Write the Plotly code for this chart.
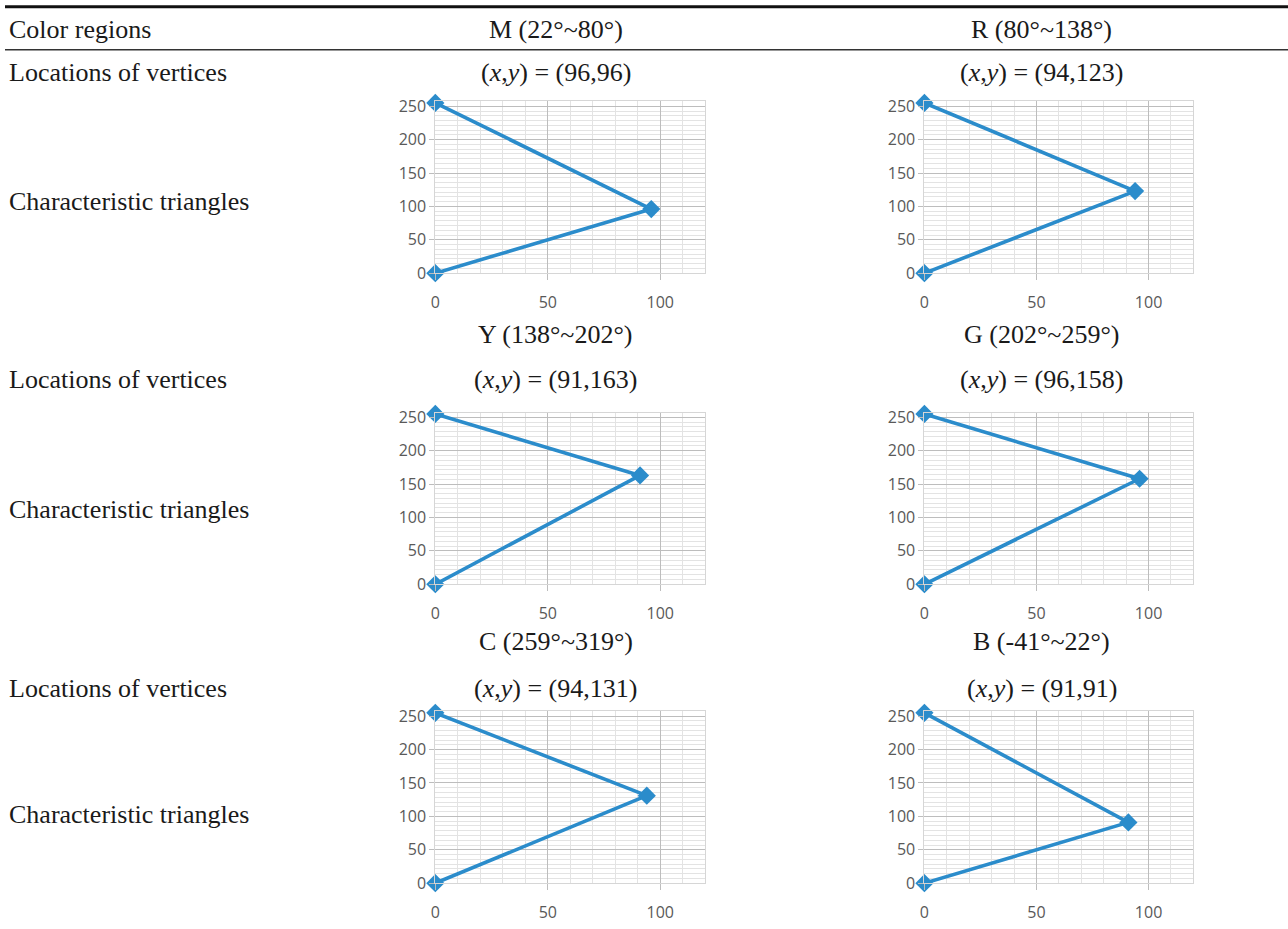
import plotly.graph_objects as go

# ---------------- data ----------------
regions = ["M (22°~80°)", "R (80°~138°)", "Y (138°~202°)",
           "G (202°~259°)", "C (259°~319°)", "B (-41°~22°)"]
vertex_x = [96, 94, 91, 96, 94, 91]
vertex_y = [96, 123, 163, 158, 131, 91]
apex_top = 255
apex_bottom = 0
row_labels = ["Locations of vertices", "Characteristic triangles"]
header_label = "Color regions"

W, H = 1288, 929
BLUE = "#2B8CCB"
SERIF = "Liberation Serif"
TICKFONT = dict(family="Open Sans", size=16, color="#595959")

# the captured page is slightly squeezed vertically; map target pixels accordingly
V_SCALE, V_OFF = 0.981, 5.2

def px(x):
    return x / W

def py(y):
    return 1 - ((y - V_OFF) / V_SCALE) / H

fig = go.Figure()

# subplot pixel geometry (left, right) per column, bottom per row
col_px = [(432, 703), (923, 1193)]
row_bottom = [271.5, 582.7, 881.7]
plot_h = 171.8
text_cx = [553, 1041]
region_y = [28, 333, 640]
loc_y = [71, 378, 687]
tri_y = [200, 508, 813]

YMAX = 250 + 50 / 7

for i in range(6):
    r, c = divmod(i, 2)
    n = i + 1
    xa = "x" if n == 1 else f"x{n}"
    ya = "y" if n == 1 else f"y{n}"
    fig.add_trace(go.Scatter(
        x=[0, vertex_x[i], 0],
        y=[apex_top, vertex_y[i], apex_bottom],
        mode="lines+markers",
        line=dict(color=BLUE, width=3.6),
        marker=dict(symbol="diamond", size=14, color=BLUE),
        xaxis=xa, yaxis=ya, showlegend=False, cliponaxis=False,
    ))
    l, rr = col_px[c]
    b = row_bottom[r]
    t = b - plot_h
    xkey = "xaxis" if n == 1 else f"xaxis{n}"
    ykey = "yaxis" if n == 1 else f"yaxis{n}"
    fig.update_layout(**{
        xkey: dict(
            domain=[px(l), px(rr)], anchor=ya, range=[0, 120],
            tick0=0, dtick=50, showgrid=True, gridcolor="#bdbdbd", gridwidth=1,
            minor=dict(dtick=10, showgrid=True, gridcolor="#e3e3e3", gridwidth=1),
            ticks="outside", ticklen=6, tickcolor="#bdbdbd",
            ticklabelstandoff=9,
            showline=True, linecolor="#d6d6d6", mirror=True,
            zeroline=False, tickfont=TICKFONT, fixedrange=True,
        ),
        ykey: dict(
            domain=[py(b), py(t)], anchor=xa, range=[0, YMAX],
            tick0=0, dtick=50, showgrid=True, gridcolor="#bdbdbd", gridwidth=1,
            minor=dict(dtick=50 / 7, showgrid=True, gridcolor="#e3e3e3", gridwidth=1),
            ticks="outside", ticklen=5, tickcolor="#bdbdbd",
            showline=True, linecolor="#d6d6d6", mirror=True,
            zeroline=False, tickfont=TICKFONT, fixedrange=True,
        ),
    })

annotations = []

def add_text(text, x, y, xanchor="center"):
    annotations.append(dict(
        text=text, x=px(x), y=py(y), xref="paper", yref="paper",
        xanchor=xanchor, yanchor="middle", showarrow=False,
        font=dict(family=SERIF, size=26, color="#1a1a1a"),
    ))

add_text(header_label, 2, region_y[0], "left")
for r in range(3):
    for c in range(2):
        i = r * 2 + c
        add_text(regions[i], text_cx[c], region_y[r])
        add_text(f"(<i>x</i>,<i>y</i>) = ({vertex_x[i]},{vertex_y[i]})",
                 text_cx[c], loc_y[r])
    add_text(row_labels[0], 2, loc_y[r], "left")
    add_text(row_labels[1], 2, tri_y[r], "left")

shapes = [
    dict(type="line", xref="paper", yref="paper", x0=0, x1=1,
         y0=py(5), y1=py(5), line=dict(color="#111111", width=3)),
    dict(type="line", xref="paper", yref="paper", x0=0, x1=1,
         y0=py(48), y1=py(48), line=dict(color="#333333", width=1.5)),
]

fig.update_layout(
    width=W, height=H, margin=dict(l=0, r=0, t=0, b=0),
    paper_bgcolor="white", plot_bgcolor="white",
    annotations=annotations, shapes=shapes, showlegend=False,
)

fig.write_html("out.html", config={"displayModeBar": False},
               post_script="document.body.style.margin='0';")
